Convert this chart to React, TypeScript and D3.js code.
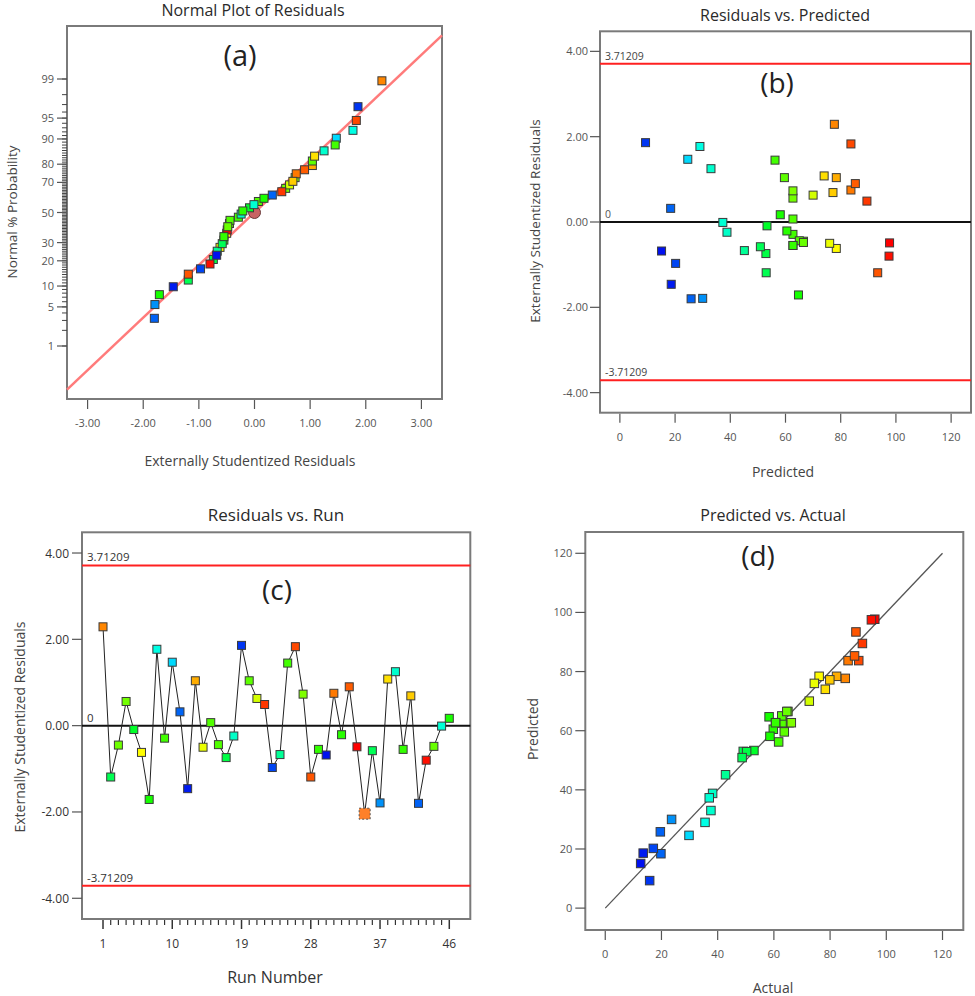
import React from "react";
import * as d3 from "d3";

// ---------- data (per run, run order 1..46) ----------
const runNumbers = d3.range(1, 47);
const residuals = [
  2.29, -1.19, -0.45, 0.56, -0.09, -0.62, -1.71, 1.77, -0.29, 1.47,
  0.32, -1.46, 1.04, -0.5, 0.07, -0.44, -0.74, -0.24, 1.86, 1.04,
  0.63, 0.49, -0.97, -0.67, 1.45, 1.83, 0.73, -1.19, -0.55, -0.68,
  0.75, -0.21, 0.9, -0.49, -2.04, -0.58, -1.79, 1.08, 1.25, -0.55,
  0.69, -1.8, -0.8, -0.48, -0.01, 0.17,
];
const predicted = [
  77.7, 53.0, 66.5, 62.7, 53.3, 78.4, 64.7, 29.0, 62.7, 24.6,
  18.4, 18.6, 78.4, 76.0, 62.7, 65.0, 52.9, 38.8, 9.3, 59.6,
  70.0, 89.5, 20.2, 45.1, 56.2, 83.7, 62.7, 93.4, 62.7, 15.1,
  83.7, 60.5, 85.3, 97.7, 93.0, 50.9, 30.0, 74.0, 33.0, 62.7,
  77.2, 25.8, 97.5, 66.5, 37.3, 58.1,
];
const actual = [
  85.4, 49.1, 65.0, 65.4, 52.9, 76.1, 58.3, 35.5, 61.6, 29.8,
  19.8, 13.5, 82.3, 74.4, 62.9, 62.8, 50.3, 38.2, 15.8, 63.7,
  72.6, 91.5, 17.1, 42.8, 61.7, 90.2, 66.2, 89.2, 60.6, 12.6,
  86.4, 59.8, 88.7, 95.9, 86.0, 48.7, 23.6, 78.3, 37.6, 60.6,
  79.9, 19.6, 94.7, 64.6, 37.0, 58.6,
];
const ignoredRuns = [35];
const limitValue = 3.71209;
const fitSlope = 0.916;

// tick labels
const aXTicks = [-3, -2, -1, 0, 1, 2, 3];
const aYTicks = [1, 5, 10, 20, 30, 50, 70, 80, 90, 95, 99];
const aYMinor = d3.range(1, 100);
const resTicks = [-4, -2, 0, 2, 4];
const predTicks = [0, 20, 40, 60, 80, 100, 120];
const runMajorTicks = [1, 10, 19, 28, 37, 46];

// colour ramp (blue -> cyan -> green -> yellow -> red) over actual values
const rampColors = ["#0010f0", "#00ffff", "#00ff00", "#ffff00", "#ff0000"];
const rampStops = [0, 0.245, 0.53, 0.76, 1];

// ---------- helpers ----------
function invNorm(p: number): number {
  const a = [-39.69683028665376, 220.9460984245205, -275.9285104469687, 138.357751867269, -30.66479806614716, 2.506628277459239];
  const b = [-54.47609879822406, 161.5858368580409, -155.6989798598866, 66.80131188771972, -13.28068155288572];
  const c = [-0.007784894002430293, -0.3223964580411365, -2.400758277161838, -2.549732539343734, 4.374664141464968, 2.938163982698783];
  const d = [0.007784695709041462, 0.3224671290700398, 2.445134137142996, 3.754408661907416];
  const pl = 0.02425;
  let q, r;
  if (p < pl) {
    q = Math.sqrt(-2 * Math.log(p));
    return (((((c[0] * q + c[1]) * q + c[2]) * q + c[3]) * q + c[4]) * q + c[5]) / ((((d[0] * q + d[1]) * q + d[2]) * q + d[3]) * q + 1);
  }
  if (p <= 1 - pl) {
    q = p - 0.5;
    r = q * q;
    return ((((((a[0] * r + a[1]) * r + a[2]) * r + a[3]) * r + a[4]) * r + a[5]) * q) / (((((b[0] * r + b[1]) * r + b[2]) * r + b[3]) * r + b[4]) * r + 1);
  }
  q = Math.sqrt(-2 * Math.log(1 - p));
  return -(((((c[0] * q + c[1]) * q + c[2]) * q + c[3]) * q + c[4]) * q + c[5]) / ((((d[0] * q + d[1]) * q + d[2]) * q + d[3]) * q + 1);
}

const fmt2 = (v: number) => v.toFixed(2);
const fmt5 = (v: number) => v.toFixed(5);

const rows = runNumbers.map((run, i) => ({
  run,
  r: residuals[i],
  p: predicted[i],
  a: actual[i],
  ignored: ignoredRuns.includes(run),
}));
const n = rows.length;
const sorted = d3.sort(rows, (d) => d.r);
const rankOf = new Map<number, number>();
sorted.forEach((d, i) => rankOf.set(d.run, i + 1));

const [amin, amax] = d3.extent(actual) as [number, number];
const color = d3
  .scaleLinear<string>()
  .domain(rampStops.map((t) => amin + t * (amax - amin)))
  .range(rampColors)
  .interpolate(d3.interpolateRgb);

const FONT = "'Open Sans', 'Noto Sans', sans-serif";
const TICK_COL = "#555";
const FRAME_COL = "#7a7a7a";

function Sq({ x, y, c, s = 8 }: { x: number; y: number; c: string; s?: number }) {
  return <rect x={x - s / 2} y={y - s / 2} width={s} height={s} fill={c} stroke="#3a3a3a" strokeWidth={1} />;
}

function Frame({ x0, y0, x1, y1 }: any) {
  return <rect x={x0} y={y0} width={x1 - x0} height={y1 - y0} fill="none" stroke={FRAME_COL} strokeWidth={2} />;
}

function Title({ x, y, t, size = 16 }: any) {
  return (
    <text x={x} y={y} textAnchor="middle" fontSize={size} fill="#2a2a2a" fontFamily={FONT}>
      {t}
    </text>
  );
}

function YLabel({ x, y, t, size = 13 }: any) {
  return (
    <text transform={`translate(${x},${y}) rotate(-90)`} textAnchor="middle" fontSize={size} fill="#444" fontFamily={FONT}>
      {t}
    </text>
  );
}

// ---------- Panel A ----------
function PanelA() {
  const L = 67, T = 26, R = 442, B = 399;
  const x = d3.scaleLinear().domain([-3.37, 3.37]).range([L, R]);
  const z = d3.scaleLinear().domain([-3.25, 3.25]).range([B, T]);
  const yP = (pct: number) => z(invNorm(pct / 100));
  const pts = rows.filter((d) => !d.ignored);
  const lx = x.domain();
  return (
    <g>
      <Title x={253} y={16} t="Normal Plot of Residuals" />
      <text x={240} y={66} textAnchor="middle" fontSize={29} fill="#222" fontFamily={FONT}>(a)</text>
      <Frame x0={L} y0={T} x1={R} y1={B} />
      {aYMinor.map((v) => (
        <line key={"m" + v} x1={L - 5} x2={L} y1={yP(v)} y2={yP(v)} stroke="#444" strokeWidth={1} />
      ))}
      {aYTicks.map((v) => (
        <g key={v}>
          <line x1={L - 10} x2={L} y1={yP(v)} y2={yP(v)} stroke={TICK_COL} strokeWidth={1.2} />
          <text x={L - 13} y={yP(v) + 4} textAnchor="end" fontSize={11} fill={TICK_COL} fontFamily={FONT}>{v}</text>
        </g>
      ))}
      {aXTicks.map((v) => (
        <g key={v}>
          <line x1={x(v)} x2={x(v)} y1={B + 1} y2={B + 10} stroke={TICK_COL} strokeWidth={1.2} />
          <text x={x(v)} y={B + 28} textAnchor="middle" fontSize={11} fill={TICK_COL} fontFamily={FONT}>{fmt2(v)}</text>
        </g>
      ))}
      <line x1={x(lx[0])} y1={z(fitSlope * lx[0])} x2={x(lx[1])} y2={z(fitSlope * lx[1])} stroke="#ff7b7b" strokeWidth={2.5} />
      <circle cx={x(0)} cy={z(0)} r={6} fill="#c86464" stroke="#6a3a3a" strokeWidth={1} />
      {pts.map((d) => (
        <Sq key={d.run} x={x(d.r)} y={z(invNorm((rankOf.get(d.run)! - 0.5) / n))} c={color(d.a)} />
      ))}
      <text x={250} y={466} textAnchor="middle" fontSize={14} fill="#444" fontFamily={FONT}>Externally Studentized Residuals</text>
      <YLabel x={17} y={212} t="Normal % Probability" size={13.5} />
    </g>
  );
}

// ---------- Panel B ----------
function PanelB() {
  const L = 600, T = 31.3, R = 971, B = 412.7;
  const x = d3.scaleLinear().domain([-7.2, 127.2]).range([L, R]);
  const y = d3.scaleLinear().domain([-4.47, 4.47]).range([B, T]);
  const pts = rows.filter((d) => !d.ignored);
  return (
    <g>
      <Title x={785} y={21} t="Residuals vs. Predicted" />
      <text x={777} y={93} textAnchor="middle" fontSize={28} fill="#222" fontFamily={FONT}>(b)</text>
      <Frame x0={L} y0={T} x1={R} y1={B} />
      {resTicks.map((v) => (
        <g key={v}>
          <line x1={L - 10} x2={L} y1={y(v)} y2={y(v)} stroke={TICK_COL} strokeWidth={1.2} />
          <text x={L - 12} y={y(v) + 4} textAnchor="end" fontSize={11} fill={TICK_COL} fontFamily={FONT}>{fmt2(v)}</text>
        </g>
      ))}
      {predTicks.map((v) => (
        <g key={v}>
          <line x1={x(v)} x2={x(v)} y1={B + 1} y2={B + 10} stroke={TICK_COL} strokeWidth={1.2} />
          <text x={x(v)} y={B + 28} textAnchor="middle" fontSize={11} fill={TICK_COL} fontFamily={FONT}>{v}</text>
        </g>
      ))}
      {[limitValue, -limitValue].map((v) => (
        <g key={v}>
          <line x1={L} x2={R} y1={y(v)} y2={y(v)} stroke="#ff2020" strokeWidth={2} />
          <text x={L + 5} y={y(v) - 4} fontSize={10.5} fill="#444" fontFamily={FONT}>{fmt5(v)}</text>
        </g>
      ))}
      <line x1={L} x2={R} y1={y(0)} y2={y(0)} stroke="#111" strokeWidth={2} />
      <text x={L + 5} y={y(0) - 4} fontSize={10.5} fill="#555" fontFamily={FONT}>0</text>
      {pts.map((d) => (
        <Sq key={d.run} x={x(d.p)} y={y(d.r)} c={color(d.a)} />
      ))}
      <text x={783} y={477} textAnchor="middle" fontSize={14} fill="#444" fontFamily={FONT}>Predicted</text>
      <YLabel x={540} y={221} t="Externally Studentized Residuals" size={13.5} />
    </g>
  );
}

// ---------- Panel C ----------
function PanelC() {
  const L = 82, T = 532.3, R = 470.3, B = 919;
  const x = d3.scaleLinear().domain([-1.73, 48.73]).range([L, R]);
  const y = d3.scaleLinear().domain([-4.48, 4.48]).range([B, T]);
  const line = d3.line<(typeof rows)[0]>().x((d) => x(d.run)).y((d) => y(d.r));
  return (
    <g>
      <Title x={276} y={521} t="Residuals vs. Run" size={17} />
      <text x={277} y={600} textAnchor="middle" fontSize={28} fill="#222" fontFamily={FONT}>(c)</text>
      <Frame x0={L} y0={T} x1={R} y1={B} />
      {resTicks.map((v) => (
        <g key={v}>
          <line x1={L - 10} x2={L} y1={y(v)} y2={y(v)} stroke={TICK_COL} strokeWidth={1.2} />
          <text x={L - 13} y={y(v) + 4.5} textAnchor="end" fontSize={12} fill="#333" fontFamily={FONT}>{fmt2(v)}</text>
        </g>
      ))}
      {runNumbers.map((v) => {
        const major = runMajorTicks.includes(v);
        return <line key={v} x1={x(v)} x2={x(v)} y1={B + 1} y2={B + (major ? 10 : 6)} stroke="#333" strokeWidth={major ? 1.5 : 1.2} />;
      })}
      {runMajorTicks.map((v) => (
        <text key={v} x={x(v)} y={B + 29} textAnchor="middle" fontSize={12} fill="#333" fontFamily={FONT}>{v}</text>
      ))}
      {[limitValue, -limitValue].map((v) => (
        <g key={v}>
          <line x1={L} x2={R} y1={y(v)} y2={y(v)} stroke="#ff2020" strokeWidth={2} />
          <text x={L + 5} y={y(v) - 4} fontSize={11.5} fill="#333" fontFamily={FONT}>{fmt5(v)}</text>
        </g>
      ))}
      <line x1={L} x2={R} y1={y(0)} y2={y(0)} stroke="#111" strokeWidth={2} />
      <text x={L + 5} y={y(0) - 4} fontSize={11.5} fill="#333" fontFamily={FONT}>0</text>
      <path d={line(rows) || ""} fill="none" stroke="#222" strokeWidth={1} />
      {rows.map((d) =>
        d.ignored ? (
          <rect key={d.run} x={x(d.run) - 5.5} y={y(d.r) - 5.5} width={11} height={11} fill="#ff8028" stroke="#555" strokeWidth={1} strokeDasharray="2,2" />
        ) : (
          <Sq key={d.run} x={x(d.run)} y={y(d.r)} c={color(d.a)} />
        )
      )}
      <text x={275} y={983} textAnchor="middle" fontSize={16} fill="#333" fontFamily={FONT}>Run Number</text>
      <YLabel x={25} y={727} t="Externally Studentized Residuals" size={14} />
    </g>
  );
}

// ---------- Panel D ----------
function PanelD() {
  const L = 585.3, T = 532, R = 963.3, B = 930;
  const x = d3.scaleLinear().domain([-7.1, 127.4]).range([L, R]);
  const y = d3.scaleLinear().domain([-7.4, 127.2]).range([B, T]);
  const pts = rows.filter((d) => !d.ignored);
  const lineEnds = [predTicks[0], predTicks[predTicks.length - 1]];
  return (
    <g>
      <Title x={773} y={521} t="Predicted vs. Actual" />
      <text x={758} y={566} textAnchor="middle" fontSize={28} fill="#222" fontFamily={FONT}>(d)</text>
      <Frame x0={L} y0={T} x1={R} y1={B} />
      {predTicks.map((v) => (
        <g key={v}>
          <line x1={L - 10} x2={L} y1={y(v)} y2={y(v)} stroke={TICK_COL} strokeWidth={1.2} />
          <text x={L - 13} y={y(v) + 4} textAnchor="end" fontSize={11} fill={TICK_COL} fontFamily={FONT}>{v}</text>
          <line x1={x(v)} x2={x(v)} y1={B + 1} y2={B + 10} stroke={TICK_COL} strokeWidth={1.2} />
          <text x={x(v)} y={B + 28} textAnchor="middle" fontSize={11} fill={TICK_COL} fontFamily={FONT}>{v}</text>
        </g>
      ))}
      <line x1={x(lineEnds[0])} y1={y(lineEnds[0])} x2={x(lineEnds[1])} y2={y(lineEnds[1])} stroke="#555" strokeWidth={1.3} />
      {pts.map((d) => (
        <Sq key={d.run} x={x(d.a)} y={y(d.p)} c={color(d.a)} s={8.5} />
      ))}
      <text x={773} y={993} textAnchor="middle" fontSize={14} fill="#444" fontFamily={FONT}>Actual</text>
      <YLabel x={538} y={729} t="Predicted" size={14} />
    </g>
  );
}

export default function App() {
  return (
    <svg
      width={975}
      height={996}
      viewBox="0 0 975 996"
      style={{ position: "absolute", left: 0, top: 0, background: "#fff" }}
    >
      <rect x={0} y={0} width={975} height={996} fill="#fff" />
      <PanelA />
      <PanelB />
      <PanelC />
      <PanelD />
    </svg>
  );
}
